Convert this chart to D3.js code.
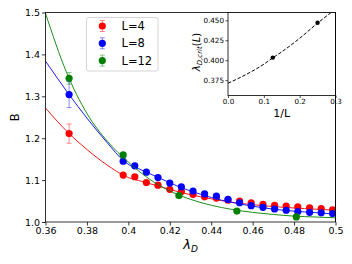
<!DOCTYPE html>
<html><head><meta charset="utf-8">
<script src="https://cdn.jsdelivr.net/npm/d3@7"></script>
<style>
html,body{margin:0;padding:0;background:#fff;}
text{font-family:"DejaVu Sans",sans-serif;fill:#000;}
</style></head>
<body><svg id="c" width="352" height="264"></svg>
<script>
// ---------- data ----------
const seriesNames = ["L=4", "L=8", "L=12"];
const seriesColors = ["#ff0000", "#0000ff", "#008000"];

const xL4 = [0.3714,0.3975,0.4031,0.4087,0.4143,0.4200,0.4256,0.4312,0.4368,0.4425,0.4481,0.4537,0.4593,0.4650,0.4706,0.4762,0.4818,0.4875,0.4931,0.4986];
const yL4 = [1.211,1.112,1.108,1.094,1.088,1.078,1.073,1.066,1.060,1.057,1.052,1.050,1.046,1.042,1.040,1.038,1.036,1.034,1.032,1.029];
const eL4 = [0.023,0.004,0.003,0.003,0.003,0.003,0.002,0.002,0.002,0.002,0.002,0.002,0.002,0.002,0.002,0.002,0.002,0.002,0.002,0.002];

const xL8 = [0.3714,0.3975,0.4031,0.4087,0.4143,0.4200,0.4256,0.4312,0.4368,0.4425,0.4481,0.4537,0.4593,0.4650,0.4706,0.4762,0.4818,0.4875,0.4931,0.4986];
const yL8 = [1.304,1.145,1.134,1.119,1.106,1.093,1.084,1.074,1.067,1.062,1.054,1.046,1.039,1.035,1.031,1.028,1.025,1.023,1.022,1.020];
const eL8 = [0.031,0.005,0.004,0.004,0.003,0.003,0.003,0.003,0.002,0.002,0.002,0.002,0.002,0.002,0.002,0.002,0.002,0.002,0.002,0.002];

const xL12 = [0.3714,0.3975,0.4244,0.4524,0.4811];
const yL12 = [1.343,1.160,1.063,1.026,1.012];
const eL12 = [0.014,0.004,0.003,0.003,0.003];

const fitX4 = [0.36,0.3714,0.38,0.39,0.3975,0.4005,0.405,0.415,0.425,0.435,0.445,0.455,0.465,0.475,0.485,0.50];
const fitY4 = [1.272,1.211,1.173,1.135,1.112,1.105,1.099,1.085,1.071,1.060,1.051,1.044,1.039,1.035,1.032,1.028];
const fitX8 = [0.36,0.3714,0.38,0.39,0.3975,0.4005,0.405,0.415,0.425,0.435,0.445,0.455,0.465,0.475,0.485,0.50];
const fitY8 = [1.384,1.304,1.248,1.188,1.147,1.136,1.127,1.105,1.083,1.066,1.052,1.042,1.034,1.028,1.024,1.019];
const fitX12 = [0.36,0.37,0.38,0.39,0.40,0.41,0.42,0.43,0.44,0.45,0.46,0.47,0.48,0.49,0.50];
const fitY12 = [1.498,1.359,1.259,1.192,1.143,1.103,1.074,1.054,1.040,1.030,1.023,1.018,1.014,1.012,1.010];

const xTicks = [0.36,0.38,0.40,0.42,0.44,0.46,0.48,0.50];
const xTickLabels = ["0.36","0.38","0.4","0.42","0.44","0.46","0.48","0.5"];
const yTicks = [1.0,1.1,1.2,1.3,1.4,1.5];
const yTickLabels = ["1.0","1.1","1.2","1.3","1.4","1.5"];

// inset
const insetX = [0.125, 0.25];
const insetY = [0.4033, 0.447];
const insetCurveX = [0,0.05,0.1,0.125,0.15,0.2,0.25,0.3];
const insetCurveY = [0.3712,0.3820,0.3950,0.4030,0.4105,0.4275,0.4465,0.4640];
const insetXTicks = [0.0,0.1,0.2,0.3];
const insetXTickLabels = ["0.0","0.1","0.2","0.3"];
const insetYTicks = [0.375,0.400,0.425,0.450];
const insetYTickLabels = ["0.375","0.400","0.425","0.450"];

// ---------- drawing ----------
const svg = d3.select("#c");
const M = {l:45.5, r:335.5, t:12.5, b:222};
const x = d3.scaleLinear().domain([0.36,0.5]).range([M.l,M.r]);
const y = d3.scaleLinear().domain([1.0,1.5]).range([M.b,M.t]);

svg.append("defs").append("clipPath").attr("id","mainclip")
  .append("rect").attr("x",M.l).attr("y",M.t).attr("width",M.r-M.l).attr("height",M.b-M.t);

const series = [
  {x:xL4,y:yL4,e:eL4,fx:fitX4,fy:fitY4},
  {x:xL8,y:yL8,e:eL8,fx:fitX8,fy:fitY8},
  {x:xL12,y:yL12,e:eL12,fx:fitX12,fy:fitY12}
];

const plot = svg.append("g").attr("clip-path","url(#mainclip)");
const line = d3.line().x(d=>x(d[0])).y(d=>y(d[1])).curve(d3.curveMonotoneX);

series.forEach((s,i)=>{
  const col = seriesColors[i];
  const g = plot.append("g");
  g.append("path").datum(d3.zip(s.fx,s.fy)).attr("d",line)
    .attr("fill","none").attr("stroke",col).attr("stroke-width",0.9);
  const pts = d3.zip(s.x,s.y,s.e);
  const eb = g.append("g").attr("stroke",col).attr("stroke-opacity",0.5).attr("stroke-width",0.9);
  pts.forEach(p=>{
    const cx = x(p[0]), y0 = y(p[1]-p[2]), y1 = y(p[1]+p[2]);
    eb.append("line").attr("x1",cx).attr("x2",cx).attr("y1",y0).attr("y2",y1);
    eb.append("line").attr("x1",cx-2.5).attr("x2",cx+2.5).attr("y1",y0).attr("y2",y0);
    eb.append("line").attr("x1",cx-2.5).attr("x2",cx+2.5).attr("y1",y1).attr("y2",y1);
  });
  g.selectAll("circle").data(pts).join("circle")
    .attr("cx",d=>x(d[0])).attr("cy",d=>y(d[1])).attr("r",3.6).attr("fill",col);
});

// axes
const xAxis = d3.axisBottom(x).tickValues(xTicks).tickFormat((d,i)=>xTickLabels[i]).tickSize(3.5).tickPadding(2);
const yAxis = d3.axisLeft(y).tickValues(yTicks).tickFormat((d,i)=>yTickLabels[i]).tickSize(3.5).tickPadding(2);
const gx = svg.append("g").attr("transform",`translate(0,${M.b})`).call(xAxis);
const gy = svg.append("g").attr("transform",`translate(${M.l},0)`).call(yAxis);
[gx,gy].forEach(g=>{
  g.select(".domain").remove();
  g.selectAll("line").attr("stroke","#000").attr("stroke-width",0.8);
  g.selectAll("text").style("font-size","9.5px").attr("fill","#000");
});
svg.append("rect").attr("x",M.l).attr("y",M.t).attr("width",M.r-M.l).attr("height",M.b-M.t)
  .attr("fill","none").attr("stroke","#000").attr("stroke-width",0.8);

// axis labels
svg.append("text").attr("transform",`translate(18.5,${(M.t+M.b)/2}) rotate(-90)`)
  .attr("text-anchor","middle").style("font-size","11.5px").text("B");
const xl = svg.append("text").attr("x",(M.l+M.r)/2).attr("y",249).attr("text-anchor","middle").style("font-size","13px");
xl.append("tspan").style("font-style","italic").text("λ");
xl.append("tspan").style("font-style","italic").style("font-size","9px").attr("dy",3).text("D");

// legend
const lg = svg.append("g");
lg.append("rect").attr("x",86.5).attr("y",17.5).attr("width",71.5).attr("height",53.5).attr("rx",2)
  .attr("fill","#fff").attr("fill-opacity",0.8).attr("stroke","#cccccc").attr("stroke-width",0.8);
seriesNames.forEach((n,i)=>{
  const cy = 26 + i*17.3, cx = 102.3, col = seriesColors[i];
  const e = lg.append("g").attr("stroke",col).attr("stroke-opacity",0.5).attr("stroke-width",0.9);
  e.append("line").attr("x1",cx).attr("x2",cx).attr("y1",cy-5.5).attr("y2",cy+5.5);
  e.append("line").attr("x1",cx-2.5).attr("x2",cx+2.5).attr("y1",cy-5.5).attr("y2",cy-5.5);
  e.append("line").attr("x1",cx-2.5).attr("x2",cx+2.5).attr("y1",cy+5.5).attr("y2",cy+5.5);
  lg.append("circle").attr("cx",cx).attr("cy",cy).attr("r",3.6).attr("fill",col);
  lg.append("text").attr("x",121.5).attr("y",cy+4).style("font-size","11.5px").text(n);
});

// inset
const I = {l:228, r:335.5, t:12.5, b:95.5};
const ix = d3.scaleLinear().domain([0,0.3]).range([I.l,I.r]);
const iy = d3.scaleLinear().domain([0.3558,0.4598]).range([I.b,I.t]);
svg.select("defs").append("clipPath").attr("id","insclip")
  .append("rect").attr("x",I.l).attr("y",I.t).attr("width",I.r-I.l).attr("height",I.b-I.t);
svg.append("rect").attr("x",I.l).attr("y",I.t).attr("width",I.r-I.l).attr("height",I.b-I.t).attr("fill","#fff");
const ig = svg.append("g").attr("clip-path","url(#insclip)");
ig.append("path").datum(d3.zip(insetCurveX,insetCurveY))
  .attr("d",d3.line().x(d=>ix(d[0])).y(d=>iy(d[1])).curve(d3.curveMonotoneX))
  .attr("fill","none").attr("stroke","#000").attr("stroke-width",1).attr("stroke-dasharray","3.5,1.8");
ig.selectAll("circle").data(d3.zip(insetX,insetY)).join("circle")
  .attr("cx",d=>ix(d[0])).attr("cy",d=>iy(d[1])).attr("r",2.2).attr("fill","#000");
const igx = svg.append("g").attr("transform",`translate(0,${I.b})`)
  .call(d3.axisBottom(ix).tickValues(insetXTicks).tickFormat((d,i)=>insetXTickLabels[i]).tickSize(2.5).tickPadding(1));
const igy = svg.append("g").attr("transform",`translate(${I.l},0)`)
  .call(d3.axisLeft(iy).tickValues(insetYTicks).tickFormat((d,i)=>insetYTickLabels[i]).tickSize(2.5).tickPadding(1.5));
[igx,igy].forEach(g=>{
  g.select(".domain").remove();
  g.selectAll("line").attr("stroke","#000").attr("stroke-width",0.7);
  g.selectAll("text").style("font-size","7.2px").attr("fill","#000");
});
svg.append("rect").attr("x",I.l).attr("y",I.t).attr("width",I.r-I.l).attr("height",I.b-I.t)
  .attr("fill","none").attr("stroke","#000").attr("stroke-width",0.8);
svg.append("text").attr("x",(I.l+I.r)/2).attr("y",116.5).attr("text-anchor","middle").style("font-size","11px").text("1/L");
const il = svg.append("text").attr("transform",`translate(199.5,52) rotate(-90)`)
  .attr("text-anchor","middle").style("font-size","10px");
il.append("tspan").style("font-style","italic").text("λ");
il.append("tspan").style("font-style","italic").style("font-size","7px").attr("dy",2.5).text("D,crit");
il.append("tspan").attr("dy",-2.5).text("(");
il.append("tspan").style("font-style","italic").text("L");
il.append("tspan").text(")");
// main right spine over inset (as in reference)
svg.append("line").attr("x1",M.r).attr("x2",M.r).attr("y1",M.t).attr("y2",M.b).attr("stroke","#000").attr("stroke-width",0.8);
</script></body></html>
